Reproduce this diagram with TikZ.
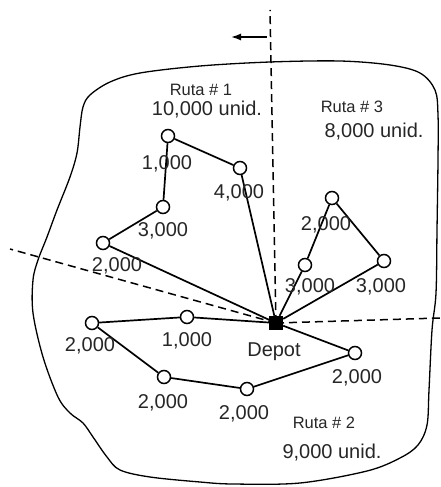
\documentclass[tikz,border=0pt]{standalone}
\usepackage{fontspec}
\setmainfont{Liberation Sans}
\usetikzlibrary{arrows.meta}
\begin{document}
\begin{tikzpicture}[x=1pt,y=-1pt,
  stop/.style={circle,draw,fill=white,line width=1.5pt,minimum size=13pt,inner sep=0pt},
  depotbox/.style={rectangle,fill=black,minimum size=14pt,inner sep=0pt},
  route/.style={line width=1.7pt},
  sector/.style={line width=1.5pt,dash pattern=on 8pt off 5pt},
  num/.style={font=\fontsize{20}{20}\selectfont,inner sep=0pt,text=black!85},
  ruta/.style={font=\fontsize{16.5}{16.5}\selectfont,inner sep=0pt,text=black!85}]
\useasboundingbox (0,0) rectangle (440,487);
% region outline
\draw[line width=1.3pt] plot[smooth cycle,tension=0.55] coordinates {
 (140,73) (200,66) (270,62) (340,61) (390,65) (420,73) (435,90) (438,115)
 (438,160) (437,230) (436,293) (432,330) (429,390) (427,425) (418,445)
 (400,458) (367,471) (300,483) (233,484) (200,482) (150,477) (120,470)
 (107,457) (93,437) (83,423) (70,413) (58,397) (43,357) (33,313) (33,280)
 (38,260) (47,237) (57,210) (70,177) (77,153) (80,127) (83,107) (90,95) (110,82)};
% depot
\node[depotbox] (dep) at (276,323) {};
% sector lines
\coordinate (vtop) at (270,10);
\coordinate (lend) at (10,249);
\coordinate (rend) at (440,318);
\draw[sector] (dep.center) -- (vtop);
\draw[sector] (dep.center) -- (lend);
\draw[sector] (dep.center) -- (rend);
\coordinate (arS) at (267,37);
\coordinate (arE) at (231,37);
\draw[line width=1.6pt,-{Latex[length=10pt,width=7pt]}] (arS) -- (arE);
% stops
\node[stop] (a) at (168,136) {};
\node[stop] (b) at (240,168) {};
\node[stop] (c) at (163,207) {};
\node[stop] (d) at (103,243) {};
\node[stop] (e) at (332,198) {};
\node[stop] (f) at (305,265) {};
\node[stop] (g) at (384,261) {};
\node[stop] (h) at (92,323) {};
\node[stop] (i) at (187,317) {};
\node[stop] (j) at (164,377) {};
\node[stop] (k) at (247,389) {};
\node[stop] (l) at (355,353) {};
% routes
\draw[route] (dep) -- (b) -- (a) -- (c) -- (d) -- (dep);
\draw[route] (dep) -- (f) -- (e) -- (g) -- (dep);
\draw[route] (dep) -- (i) -- (h) -- (j) -- (k) -- (l) -- (dep);
% labels
\node[num] (la) at (167,164) {1,000};
\node[num] (lb) at (239,193) {4,000};
\node[num] (lc) at (163,231) {3,000};
\node[num] (ld) at (117,266) {2,000};
\node[num] (le) at (326,225) {2,000};
\node[num] (lf) at (310,287) {3,000};
\node[num] (lg) at (381,287) {3,000};
\node[num] (lh) at (90,346) {2,000};
\node[num] (li) at (187,341) {1,000};
\node[num] (lj) at (163,403) {2,000};
\node[num] (lk) at (244,414) {2,000};
\node[num] (ll) at (357,378) {2,000};
\node[num] (ldep) at (274,352) {Depot};
\node[ruta] (r1) at (201,90) {Ruta \# 1};
\node[num] (u1) at (207,110) {10,000 unid.};
\node[ruta] (r3) at (352,107) {Ruta \# 3};
\node[num] (u3) at (374,132) {8,000 unid.};
\node[ruta] (r2) at (324,423) {Ruta \# 2};
\node[num] (u2) at (332,453) {9,000 unid.};
\end{tikzpicture}
\end{document}
